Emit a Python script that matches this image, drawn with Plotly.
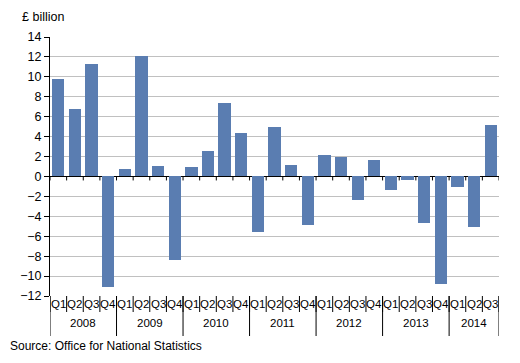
import plotly.graph_objects as go

years = ["2008", "2009", "2010", "2011", "2012", "2013", "2014"]
quarters_per_year = [4, 4, 4, 4, 4, 4, 3]
quarter_names = ["Q1", "Q2", "Q3", "Q4"]
values = [9.8, 6.8, 11.3, -11.1,
          0.7, 12.1, 1.1, -8.4,
          1.0, 2.6, 7.4, 4.4,
          -5.6, 5.0, 1.2, -4.9,
          2.2, 2.0, -2.4, 1.7,
          -1.4, -0.4, -4.7, -10.8,
          -1.1, -5.1, 5.2]
y_ticks = list(range(-12, 15, 2))

quarter_labels = []
for n in quarters_per_year:
    quarter_labels += quarter_names[:n]
xs = list(range(len(values)))

FONT = "Liberation Sans, Arial, sans-serif"
BAR = "#5A7DB1"

fig = go.Figure(go.Bar(x=xs, y=values, marker_color=BAR, marker_line_width=0, width=0.74))

# plot-area geometry in paper units
PLOT_H = 259.0
PLOT_W = 449.0
def py(px_below):
    return -px_below / PLOT_H

shapes = []
annotations = []
n = len(values)
# quarter dividers & small ticks on zero line
for i in range(n + 1):
    shapes.append(dict(type="line", xref="x", yref="paper", x0=i - 0.5, x1=i - 0.5,
                       y0=0, y1=py(16), line=dict(color="black", width=1)))
    shapes.append(dict(type="line", xref="x", yref="y", x0=i - 0.5, x1=i - 0.5,
                       y0=0, y1=-0.4, line=dict(color="black", width=1)))
# year dividers
pos = 0
bounds = [0]
for c in quarters_per_year:
    pos += c
    bounds.append(pos)
for b in bounds:
    shapes.append(dict(type="line", xref="x", yref="paper", x0=b - 0.5, x1=b - 0.5,
                       y0=0, y1=py(40), line=dict(color="black", width=1)))
# quarter labels
for i, q in enumerate(quarter_labels):
    annotations.append(dict(x=i, y=py(8), xref="x", yref="paper", text=q, showarrow=False,
                            xanchor="center", yanchor="middle",
                            font=dict(family=FONT, size=11.5, color="black")))
# year labels
for k, yr in enumerate(years):
    mid = (bounds[k] + bounds[k + 1] - 1) / 2
    annotations.append(dict(x=mid, y=py(27), xref="x", yref="paper", text=yr, showarrow=False,
                            xanchor="center", yanchor="middle",
                            font=dict(family=FONT, size=11.5, color="black")))
annotations.append(dict(x=-30 / PLOT_W, y=1 + 20 / PLOT_H, xref="paper", yref="paper", text="£ billion",
                        showarrow=False, xanchor="left", yanchor="middle",
                        font=dict(family=FONT, size=12.5, color="black")))
annotations.append(dict(x=-42 / PLOT_W, y=py(50), xref="paper", yref="paper",
                        text="Source: Office for National Statistics",
                        showarrow=False, xanchor="left", yanchor="middle",
                        font=dict(family=FONT, size=12, color="black")))

fig.update_layout(
    width=512, height=355,
    margin=dict(l=42, r=21, t=29, b=67),
    paper_bgcolor="white", plot_bgcolor="white",
    showlegend=False, bargap=0,
    font=dict(family=FONT, size=12, color="black"),
    xaxis=dict(range=[-0.5, n - 0.5], showticklabels=False, showgrid=False,
               zeroline=False, showline=False, ticks=""),
    yaxis=dict(range=[-12, 14], tickvals=y_ticks, showgrid=True, gridcolor="#C0C0C0",
               gridwidth=1, zeroline=True, zerolinecolor="black", zerolinewidth=1,
               showline=True, linecolor="black", linewidth=1, ticks="outside",
               ticklen=5, tickcolor="black",
               tickfont=dict(family=FONT, size=12.5, color="black")),
    shapes=shapes, annotations=annotations,
)

fig.write_html("out.html")
